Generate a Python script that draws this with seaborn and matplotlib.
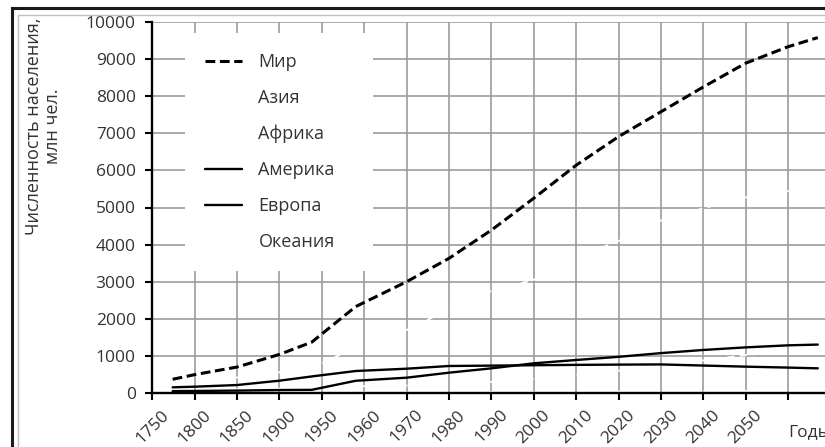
import numpy as np
import pandas as pd
import matplotlib
matplotlib.use("Agg")
import matplotlib.pyplot as plt
import seaborn as sns
from matplotlib.patches import Rectangle

# ---------------- data ----------------
years = [1774, 1800, 1850, 1900, 1938, 1958, 1970, 1980, 1990, 2000,
         2010, 2020, 2030, 2040, 2050, 2060, 2067]
world = [370, 495, 700, 1040, 1370, 2330, 3000, 3630, 4390, 5250,
         6140, 6910, 7580, 8250, 8890, 9334, 9580]
asia = [250, 320, 420, 560, 650, 1250, 1700, 2250, 2750, 3050,
        3650, 4100, 4650, 4980, 5270, 5440, 5500]
africa = [80, 90, 100, 120, 150, 180, 200, 240, 300, 380,
          480, 600, 740, 880, 1020, 1150, 1230]
america = [50, 55, 65, 80, 85, 330, 413, 548, 665, 800,
           890, 975, 1075, 1160, 1230, 1285, 1305]
europe = [153, 170, 215, 332, 446, 593, 655, 728, 738, 748,
          758, 765, 770, 740, 710, 685, 665]
oceania = [2, 2, 2, 6, 10, 15, 19, 23, 27, 31, 36, 40, 44, 48, 51, 54, 56]

legend_order = ["Мир", "Азия", "Африка", "Америка", "Европа", "Океания"]
tick_years = [1750, 1800, 1850, 1900, 1950, 1960, 1970, 1980, 1990, 2000,
              2010, 2020, 2030, 2040, 2050, 2060]
tick_labels = ["1750", "1800", "1850", "1900", "1950", "1960", "1970", "1980",
               "1990", "2000", "2010", "2020", "2030", "2040", "2050", ""]
y_ticks = list(range(0, 10001, 1000))
y_label = "Численность населения,\nмлн чел."
x_label = "Годы"

# ---------------- style ----------------
sns.set_theme(style="white")
plt.rcParams["font.family"] = ["Open Sans", "DejaVu Sans"]
TXT = "#333333"
FS = 12.5
LFS = 13

W, H = 825, 447
fig = plt.figure(figsize=(W / 100, H / 100), dpi=100)
x0, x1, ytop, ybot = 152.3, 825, 22, 393
ax = fig.add_axes([x0 / W, 1 - ybot / H, (x1 - x0) / W, (ybot - ytop) / H])

# white (invisible) series first
white_series = [("Азия", asia), ("Африка", africa), ("Океания", oceania)]
for name, vals in white_series:
    sns.lineplot(x=years, y=vals, ax=ax, color="white", linewidth=1.3,
                 linestyle=(0, (4, 3)), label=name, zorder=2)

sns.lineplot(x=years, y=world, ax=ax, color="black", linewidth=2.2,
             linestyle=(0, (3.2, 1.5)), label="Мир", zorder=3)
sns.lineplot(x=years, y=america, ax=ax, color="black", linewidth=1.7,
             label="Америка", zorder=3)
sns.lineplot(x=years, y=europe, ax=ax, color="black", linewidth=1.7,
             label="Европа", zorder=3)

# piecewise year scale: 50-year steps before 1950, 10-year steps after
def fwd(y):
    y = np.asarray(y, dtype=float)
    return np.where(y < 1950, (y - 1750) / 50.0, 4 + (y - 1950) / 10.0)

def inv(i):
    i = np.asarray(i, dtype=float)
    return np.where(i < 4, 1750 + 50 * i, 1950 + 10 * (i - 4))

ax.set_xscale("function", functions=(fwd, inv))
ax.set_xlim(1750, 2068.7)
ax.set_ylim(0, 10000)
ax.set_xticks(tick_years)
ax.set_xticklabels(tick_labels, rotation=45, ha="center", va="top")
ax.set_yticks(y_ticks)
ax.set_yticklabels([str(v) for v in y_ticks])
ax.minorticks_off()

ax.tick_params(axis="both", direction="out", length=5, width=1.5,
               color="black", labelsize=FS, labelcolor=TXT,
               bottom=True, left=True)
ax.tick_params(axis="x", pad=5)
ax.tick_params(axis="y", pad=7)

ax.grid(True, color="#9c9c9c", linewidth=1.2)
ax.set_axisbelow(True)
for s in ["top", "right"]:
    ax.spines[s].set_visible(False)
for s in ["left", "bottom"]:
    ax.spines[s].set_color("black")
    ax.spines[s].set_linewidth(1.7)

ax.set_xlabel("")
ax.set_ylabel(y_label, fontsize=13, color=TXT, linespacing=1.1)
ax.yaxis.set_label_coords((62 - x0) / (x1 - x0), (ybot - 126) / (ybot - ytop))

# legend
handles, labels = ax.get_legend_handles_labels()
hmap = dict(zip(labels, handles))
leg = ax.legend([hmap[k] for k in legend_order], legend_order,
                loc="upper left",
                bbox_to_anchor=((185 - x0) / (x1 - x0), 0,
                                (373 - 185) / (x1 - x0), (ybot - 33) / (ybot - ytop)),
                mode="expand", borderaxespad=0, borderpad=1.13,
                fontsize=LFS, frameon=True, facecolor="white", edgecolor="none",
                framealpha=1, fancybox=False, handlelength=2.05,
                handletextpad=0.89, labelspacing=0.985)
for t in leg.get_texts():
    t.set_color(TXT)

fig.text(788 / W, 1 - 432 / H, x_label, ha="left", va="center",
         fontsize=FS, color=TXT)

# decorative frame
fig.add_artist(Rectangle((11.5 / W, -1), 3, 2 - 8 / H, transform=fig.transFigure,
                         fill=False, ec="#1a1a1a", lw=2.2, clip_on=False))
fig.add_artist(Rectangle((18 / W, -1), 3, 2 - 14.5 / H, transform=fig.transFigure,
                         fill=False, ec="#c0c0c0", lw=1.0, clip_on=False))

fig.savefig("out.png", dpi=100)
